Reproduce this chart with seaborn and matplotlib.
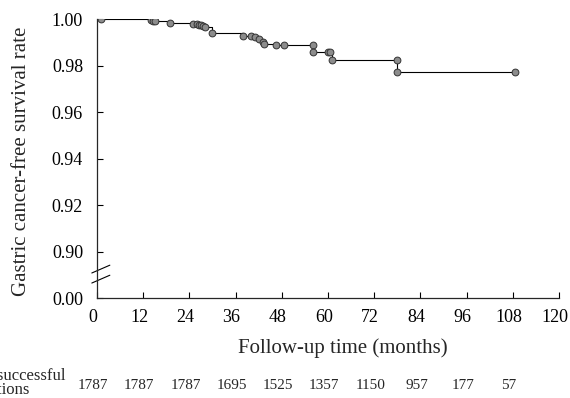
import numpy as np
import pandas as pd
import seaborn as sns
import matplotlib.pyplot as plt
import matplotlib.transforms as mtransforms
from matplotlib.lines import Line2D

# Kaplan-Meier points (months, survival)
months = [1, 14, 14.5, 15, 19, 25, 26, 26.5, 27, 27.5, 28, 30, 38, 40, 41,
          42, 43, 43.5, 46.5, 48.5, 56, 56, 60, 60.5, 61, 78, 78, 108.5]
survival = [1.000, 0.9995, 0.9990, 0.9990, 0.9984, 0.9980, 0.9978, 0.9976,
            0.9974, 0.9971, 0.9968, 0.9942, 0.9928, 0.9926, 0.9922, 0.9916,
            0.9902, 0.9893, 0.9887, 0.9887, 0.9887, 0.9857, 0.9857, 0.9857,
            0.9826, 0.9826, 0.9772, 0.9772]

at_risk_months = [0, 12, 24, 36, 48, 60, 72, 84, 96, 108]
at_risk = [1787, 1787, 1787, 1695, 1525, 1357, 1150, 957, 177, 57]

y_ticks = [0.88, 0.90, 0.92, 0.94, 0.96, 0.98, 1.00]
y_ticklabels = ["0.00", "0.90", "0.92", "0.94", "0.96", "0.98", "1.00"]

sns.set_style("ticks")
plt.rcParams["font.family"] = ["Liberation Serif", "DejaVu Serif"]

df = pd.DataFrame({"month": [0] + months, "surv": [1.0] + survival})

fig = plt.figure(figsize=(5.7, 3.98), dpi=100)
ax = fig.add_axes([0.170, 0.251, 0.811, 0.701])

sns.lineplot(data=df, x="month", y="surv", estimator=None, sort=False,
             drawstyle="steps-post", color="black", linewidth=0.8, ax=ax)
sns.scatterplot(x=months, y=survival, s=24, color="#8c8c8c",
                edgecolor="#333333", linewidth=0.7, ax=ax, zorder=3)

ax.set_xlim(0, 120)
ax.set_ylim(0.88, 1.0)
ax.set_xticks(range(0, 121, 12))
ax.set_yticks(y_ticks)
ax.set_yticklabels(y_ticklabels)
ax.tick_params(direction="in", length=4, width=0.8, labelsize=13, colors="black")
ax.tick_params(axis="x", pad=8)
ax.tick_params(axis="y", pad=10)
sns.despine(ax=ax)
for sp in ["left", "bottom"]:
    ax.spines[sp].set_linewidth(0.9)

# x tick labels sit a little left of their ticks in the original
shift = mtransforms.ScaledTranslation(-4 / 100, 0, fig.dpi_scale_trans)
for lab in ax.get_xticklabels():
    lab.set_transform(lab.get_transform() + shift)

ax.set_xlabel("Follow-up time (months)", fontsize=15)
ax.set_ylabel("Gastric cancer-free survival rate", fontsize=15)
ax.xaxis.set_label_coords(0.533, -0.143)
ax.yaxis.set_label_coords(-0.143, 0.49)

# axis break marks
for yb in [0.054, 0.090]:
    ax.add_line(Line2D([-0.011, 0.028], [yb, yb + 0.028], transform=ax.transAxes,
                       color="black", linewidth=0.8, clip_on=False))

# numbers at risk
trans = ax.get_xaxis_transform()
for m, n in zip(at_risk_months, at_risk):
    ax.text(m - 1, -0.312, str(n), transform=trans, ha="center", va="center",
            fontsize=11)
ax.text(-0.069, -0.305, "No. of successful\neradications", transform=ax.transAxes,
        ha="right", va="center", multialignment="left", fontsize=12,
        linespacing=0.8)

fig.savefig("out.png", dpi=100)
